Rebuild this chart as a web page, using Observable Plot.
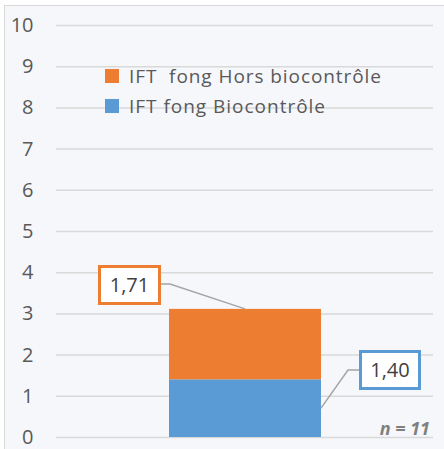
<!DOCTYPE html>
<html><head><meta charset="utf-8">
<script src="https://cdn.jsdelivr.net/npm/d3@7"></script>
<script src="https://cdn.jsdelivr.net/npm/@observablehq/plot@0.6"></script>
<style>
html,body{margin:0;padding:0;background:#fff;}
#wrap{position:relative;width:444px;height:449px;overflow:hidden;}
svg{display:block;}
</style>
</head><body><div id="wrap"></div>
<script>
const categories = ["Tous"];
const seriesNames = ["IFT fong Biocontrôle", "IFT  fong Hors biocontrôle"];
const biocontrole = [1.40];
const horsBiocontrole = [1.71];
const yTicks = [0,1,2,3,4,5,6,7,8,9,10];
const valueLabels = ["1,40", "1,71"];
const sampleNote = "n = 11";
const colors = ["#5B9BD5", "#ED7D31"];

const rows = [];
categories.forEach((c, i) => {
  rows.push({cat: c, serie: seriesNames[0], v: biocontrole[i], label: valueLabels[0]});
  rows.push({cat: c, serie: seriesNames[1], v: horsBiocontrole[i], label: valueLabels[1]});
});

const font = "'Open Sans', 'DejaVu Sans', sans-serif";

const plot = Plot.plot({
  width: 444, height: 449,
  marginLeft: 56, marginRight: 11, marginTop: 25, marginBottom: 12,
  style: {background: "transparent", fontFamily: font},
  x: {domain: categories, padding: 0.4253, axis: null},
  y: {domain: [0, 10], ticks: yTicks, label: null},
  color: {domain: seriesNames, range: colors},
  marks: [
    Plot.ruleY(yTicks, {stroke: "#d9d9d9", strokeWidth: 1.5}),
    Plot.axisY(yTicks, {tickSize: 0, tickPadding: 23, fontSize: 20, fill: "#595959", label: null}),
    Plot.barY(rows, Plot.stackY({x: "cat", y: "v", fill: "serie", order: seriesNames})),
  ]
});

const wrap = document.getElementById("wrap");
d3.select(wrap).append("div")
  .style("position","absolute").style("left","4px").style("top","5px")
  .style("width","460px").style("height","460px")
  .style("background","#f5f7fb").style("border","1.5px solid #d9d9d9");
wrap.appendChild(plot);
d3.select(plot).style("position","absolute").style("left","0").style("top","0");

const sx = plot.scale("x"), sy = plot.scale("y");
const svg = d3.select(plot);
const g = svg.append("g").attr("text-anchor","start");
const bw = sx.bandwidth;
const left = sx.apply(categories[0]), right = left + bw;
const cx = left + bw / 2;

// Callout for hors biocontrole (top of orange segment)
const topVal = biocontrole[0] + horsBiocontrole[0];
const boxO = {x: 98, y: 265, w: 63, h: 40};
const midO = boxO.y + boxO.h / 2 - 1;
g.append("polyline").attr("points", `${boxO.x+boxO.w},${midO} ${left+1},${midO} ${cx},${sy.apply(topVal)}`)
  .attr("fill","none").attr("stroke","#a5a5a5").attr("stroke-width",1.5);
g.append("rect").attr("x",boxO.x+1.5).attr("y",boxO.y+1.5).attr("width",boxO.w-3).attr("height",boxO.h-3)
  .attr("fill","#fff").attr("stroke",colors[1]).attr("stroke-width",3);
g.append("text").attr("x",boxO.x+boxO.w/2).attr("y",midO+1).attr("dy","0.35em").attr("text-anchor","middle")
  .attr("font-size",20).attr("font-family",font).attr("fill","#404040").text(valueLabels[1]);

// Callout for biocontrole
const boxB = {x: 359, y: 350, w: 62, h: 40};
const midB = boxB.y + boxB.h / 2;
g.append("polyline").attr("points", `${boxB.x},${midB} ${boxB.x-11},${midB} ${right},${sy.apply(0.7)}`)
  .attr("fill","none").attr("stroke","#a5a5a5").attr("stroke-width",1.5);
g.append("rect").attr("x",boxB.x+1.5).attr("y",boxB.y+1.5).attr("width",boxB.w-3).attr("height",boxB.h-3)
  .attr("fill","#fff").attr("stroke",colors[0]).attr("stroke-width",3);
g.append("text").attr("x",boxB.x+boxB.w/2).attr("y",midB).attr("dy","0.35em").attr("text-anchor","middle")
  .attr("font-size",20).attr("font-family",font).attr("fill","#404040").text(valueLabels[0]);

// n = 11
g.append("text").attr("x",430).attr("y",sy.apply(0)-2).attr("text-anchor","end")
  .attr("font-size",18).attr("font-weight","bold").attr("font-style","italic")
  .attr("font-family",font).attr("fill","#7f7f7f").text(sampleNote);

// legend
const legendItems = [seriesNames[1], seriesNames[0]];
const legendWidths = [252, 196];
legendItems.forEach((name, i) => {
  const yc = 76 + i * 30;
  g.append("rect").attr("x",105).attr("y",yc-7).attr("width",14).attr("height",14)
    .attr("fill", colors[seriesNames.indexOf(name)]);
  g.append("text").attr("x",129).attr("y",yc).attr("dy","0.35em").attr("text-anchor","start")
    .attr("font-size",19).attr("font-family",font).attr("fill","#595959")
    .attr("textLength", legendWidths[i]).attr("lengthAdjust","spacing")
    .style("white-space","pre").text(name);
});
</script>
</body></html>
